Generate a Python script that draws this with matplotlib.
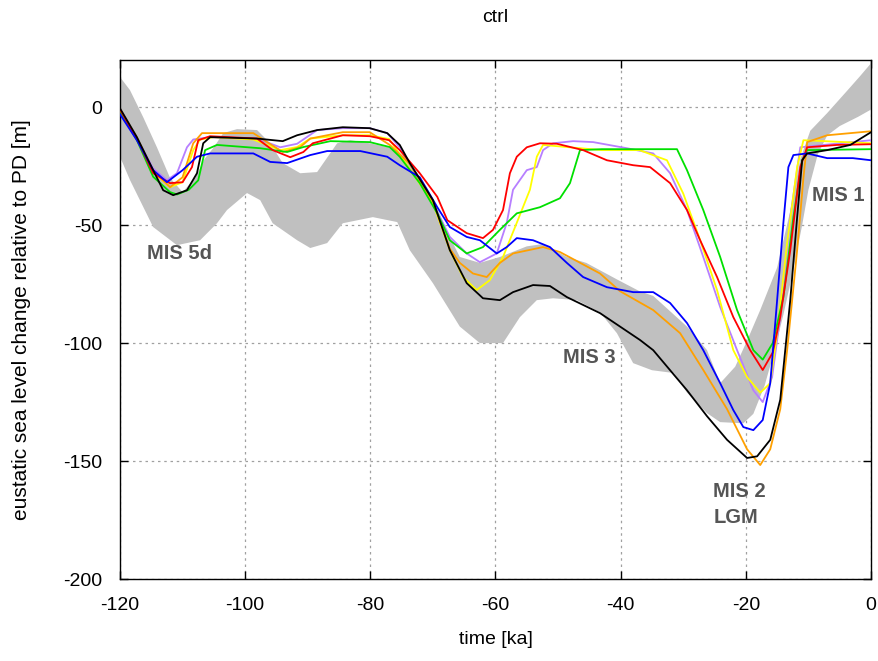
import numpy as np
import matplotlib
matplotlib.use("Agg")
from matplotlib import pyplot as plt

plt.rcParams['font.family'] = ['Liberation Sans', 'DejaVu Sans']
plt.rcParams['axes.unicode_minus'] = False

# gray reconstruction band (upper / lower edge)
band_up_t = [-120, -118.4, -116.3, -114.1, -112, -110, -108, -106.5, -105, -103.5, -101.3, -98.1, -96, -94,
             -91.2, -88.5, -85.3, -83.2, -80.1, -76.4, -73.7, -70, -67.3, -65.7, -62.5, -59.3, -55, -52.4,
             -48.6, -45.5, -40.6, -37, -34.8, -29.4, -26.2, -24.1, -21.7, -19.8, -17.7, -15.0, -12.9, -11.3,
             -9.7, -7.0, -3.8, -1.8, 0]
band_up_v = [12.8, 7.2, -4.2, -17, -30, -36, -30, -22, -17, -11, -9.3, -9.7, -15.3, -23.7,
             -28, -27.5, -15.3, -14, -15.3, -17.4, -22.5, -39, -55, -63.5, -66, -63.5, -59, -58,
             -63.5, -66, -73, -78, -80, -93, -103, -117, -110, -99, -86, -68, -44, -22,
             -10, -2.5, 7, 13, 18.6]
band_lo_t = [-120, -118.4, -114.7, -110.9, -107.2, -104.5, -102.9, -99.7, -97.6, -95.6, -91.7, -89.6, -86.9,
             -84.4, -79.6, -75.7, -73.7, -70, -65.7, -62.5, -58.8, -56.1, -53.4, -50.8, -47, -43.3, -40.6,
             -38, -35, -31.5, -29.4, -26.2, -24.1, -20.4, -18.8, -17, -15.5, -14, -12.5, -11, -10, -8.5,
             -7, -5, -2, 0]
band_lo_v = [-21, -30.9, -50.8, -58.5, -56.4, -49.2, -43.6, -36.4, -39.4, -49.2, -56.4, -59.7, -57.6,
             -49.2, -46.6, -48.7, -60.6, -74.6, -93, -100, -100, -89, -81.8, -81, -81.8, -87, -95.8,
             -108.5, -111.5, -112.7, -121, -129.7, -133.5, -134, -130, -118, -104, -88, -70, -50, -35, -20,
             -12, -8, -4, -1]

# model runs
purple_t = [-120, -117.3, -114.7, -112.5, -110.9, -109.3, -108.3, -105.6, -98.1, -94.4, -91.7, -88.5, -84.4,
            -80.1, -77.3, -75.3, -70, -67.3, -64.6, -62.5, -59.8, -58.2, -57.2, -55, -53.4, -52.4, -50.8,
            -47.6, -44.4, -39, -34.8, -32.1, -29.4, -26.8, -24.1, -21.4, -18.8, -17.3, -15.8, -14.5, -12.9,
            -11.3, 0]
purple_v = [-1, -13, -26, -31, -28, -17, -13.7, -12.7, -13.3, -17, -15.5, -9.7, -8.9,
            -8.9, -11, -17, -40.7, -55, -62, -65.7, -62, -49, -35, -26.7, -25.4, -18.2, -15.3,
            -14.4, -14.8, -17.4, -19.6, -28, -43.6, -63.5, -84.7, -103, -120, -125, -114.4, -89, -46.6,
            -17, -14]

yellow_t = [-120, -117.3, -114.7, -112, -110, -108.3, -107.2, -105, -98.7, -94.4, -91.7, -89.6, -84.4,
            -80.1, -77, -75.3, -70, -67.3, -65.2, -63, -60.9, -58.8, -56.6, -54.5, -53.4, -52.4, -48.6,
            -43, -37, -32.6, -30, -27.3, -24.6, -22, -19.8, -17.7, -16.1, -15, -13.4, -11.8, -10.8, 0]
yellow_v = [-1, -13, -27.5, -33.9, -31.8, -18.2, -13.7, -12.7, -13.7, -18.2, -16.9, -13.3, -11.9,
            -11.9, -13.5, -20, -40.7, -60.6, -72, -77.5, -73.3, -63.5, -49, -35, -21, -16, -16.9,
            -18.2, -18.2, -22.5, -36.6, -56.4, -77.5, -103, -114.4, -121, -117, -95.8, -57.6, -25.4, -14, -15.3]

orange_t = [-120, -117.3, -114.7, -112, -110, -108.3, -106.9, -98.7, -96.5, -94, -91.2, -89.6, -84.4,
            -80.1, -76.9, -73.7, -70, -67.3, -65.7, -63.6, -61.4, -59.3, -57.2, -52.4, -49.7, -43.3, -40.1,
            -34.8, -30.5, -26.8, -23, -19.8, -17.7, -16.1, -14.5, -13.4, -11.8, -10.8, -10.2, -7, 0]
orange_v = [-1, -13, -27, -33.9, -29.7, -15.3, -11, -11, -14.8, -19, -16.9, -13.3, -10.6,
            -10.6, -16, -24, -40, -60, -66, -70.5, -72, -66, -62, -59.3, -61.4, -70.5, -78,
            -86, -95.8, -111.4, -128, -145, -151.7, -145, -128, -103, -60.6, -30, -14.8, -11.9, -10.2]

green_t = [-120, -117.3, -114.7, -112, -110.9, -109, -107.5, -106.4, -104.5, -97.6, -93.3, -90.7, -86.4,
           -80.1, -76.9, -75.3, -72.1, -69.3, -67.3, -64.6, -62, -59.3, -56.6, -52.9, -49.7, -48.1, -46.5,
           -43, -31, -29.4, -26.8, -24.1, -21.4, -18.8, -17.3, -15.7, -14, -12.4, -11, -10.2, 0]
green_v = [-1.8, -14, -29.5, -36, -37, -35, -31, -18.2, -16, -17.4, -19, -16.9, -14.4,
           -14.8, -16.9, -21, -32.2, -45, -56.4, -62, -59.3, -52, -45, -42.4, -38.6, -32.2, -18.2,
           -17.8, -17.8, -26.7, -43.6, -63.5, -86, -103, -107, -100, -80.5, -46.6, -22.5, -18.2, -17.8]

red_t = [-120, -117.3, -114.7, -112, -110, -108.5, -107.5, -105.6, -98.1, -95.6, -92.8, -90.7, -89.2,
         -84.4, -80.1, -77, -75.3, -72.1, -69.3, -67.7, -64.6, -62, -60.4, -58.8, -57.7, -56.6, -55,
         -52.9, -50.2, -46, -42.2, -38, -35.3, -32.1, -29.4, -27.3, -24.6, -22, -19.3, -17.3, -15.7,
         -14.5, -12.9, -11.3, -10.2, -5.4, 0]
red_v = [-1, -13.5, -28, -32.2, -31.8, -25.4, -14, -12.3, -13.3, -18.2, -21.2, -19, -15.3,
         -11.9, -12.3, -14, -18.2, -28, -38, -47.9, -53.4, -55.5, -52, -43.6, -28, -21, -17,
         -15.3, -15.5, -18.2, -22.5, -24.6, -25.4, -32.2, -43.6, -56.4, -72, -89, -103, -111.4, -104,
         -89, -60.6, -25.4, -17, -16, -15.7]

blue_t = [-120, -117.3, -114.7, -112.5, -110, -107.7, -105.6, -98.7, -96, -93.3, -89.6, -86.9, -81.6,
          -77.3, -75.3, -72.1, -69.3, -67.3, -64.6, -62.5, -59.8, -58.2, -56.6, -54, -51.3, -48.6, -46,
          -42.2, -38, -34.8, -32.1, -29.4, -26.8, -24.1, -22, -20.4, -18.8, -17.3, -16.1, -15, -14,
          -13.2, -12.4, -10.2, -7, -2.9, 0]
blue_v = [-3, -14, -26.7, -31.8, -26.7, -21, -19.6, -19.6, -23.2, -23.7, -20.3, -18.6, -18.6,
          -21, -24.6, -29.7, -42.4, -50.8, -55, -56.4, -62, -59.3, -55.5, -56.4, -59.3, -66, -72,
          -76.3, -78.4, -78.4, -83, -91.5, -103, -117, -128.4, -135.6, -136.9, -132.6, -117, -81.8, -49,
          -25.4, -20.3, -19.6, -21.6, -21.6, -22.5]

black_t = [-120, -117.3, -114.7, -113.1, -111.5, -109.3, -107.7, -106.7, -105.6, -98.1, -94, -91.7, -88.5,
           -84.4, -80.1, -77.3, -75.3, -73.7, -70, -67.3, -64.6, -62, -59.3, -57.2, -54, -51.3, -48.6,
           -43.3, -40.1, -36.9, -34.8, -29.4, -26.2, -23, -19.8, -18.2, -16.1, -14.5, -12.9, -11.8, -11,
           -10.2, -7, -3.3, 0]
black_v = [-0.5, -12.7, -26.7, -35.2, -37.3, -35.2, -28, -15.3, -12.7, -13.3, -14.4, -11.9, -9.7,
           -8.5, -8.9, -11, -16, -23.7, -39.4, -60.6, -74.6, -81, -81.8, -78.4, -75.4, -75.8, -80.5,
           -87.3, -93, -98.7, -103, -120, -131, -141, -148.7, -148, -141, -124, -81.8, -46.6, -22.5,
           -19.6, -18.2, -16, -10.6]

runs = [(purple_t, purple_v, '#b77fff'), (yellow_t, yellow_v, '#ffff00'),
        (orange_t, orange_v, '#ffa000'), (green_t, green_v, '#00e000'),
        (red_t, red_v, '#ff0000'), (blue_t, blue_v, '#0000ff'),
        (black_t, black_v, '#000000')]

labels = [("MIS 5d", -115.7, -62), ("MIS 3", -49.2, -106), ("MIS 1", -9.4, -37.5),
          ("MIS 2\nLGM", -25.2, -168.5)]

fig = plt.figure(figsize=(8.79, 6.61), dpi=100)
ax = fig.add_axes([120 / 879, 82 / 661, 751 / 879, 519 / 661])

# band drawn as one polygon: upper edge forward, lower edge back
ax.fill(np.concatenate([band_up_t, band_lo_t[::-1]]),
        np.concatenate([band_up_v, band_lo_v[::-1]]),
        color='#c0c0c0', linewidth=0, zorder=1)

for t, v, c in runs:
    ax.plot(t, v, color=c, linewidth=1.3, zorder=3)

for txt, x, y in labels:
    ax.text(x, y, txt, color='#555555', fontsize=14.5, fontweight='bold',
            ha='left', va='center', linespacing=1.45, zorder=4)

ax.set_xlim(-120, 0)
ax.set_ylim(-200, 20)
ax.set_xticks(range(-120, 1, 20))
ax.set_yticks(range(-200, 1, 50))
ax.grid(True, color='#a0a0a0', linestyle=(0, (2, 3)), linewidth=0.9, zorder=0)
ax.set_axisbelow(True)
ax.tick_params(direction='in', top=True, right=True, length=6, width=1,
               labelsize=14, pad=13)
for s in ax.spines.values():
    s.set_linewidth(1)

ax.set_xlabel('time [ka]', fontsize=14)
ax.set_ylabel('eustatic sea level change relative to PD [m]', fontsize=15)
ax.xaxis.set_label_coords(0.5, (579 - 631) / 519)
ax.yaxis.set_label_coords((31 - 120) / 751, 0.5)
fig.text(495 / 879, 1 - 18 / 661, 'ctrl', ha='center', va='center', fontsize=14)

fig.savefig('out.png', dpi=100)
